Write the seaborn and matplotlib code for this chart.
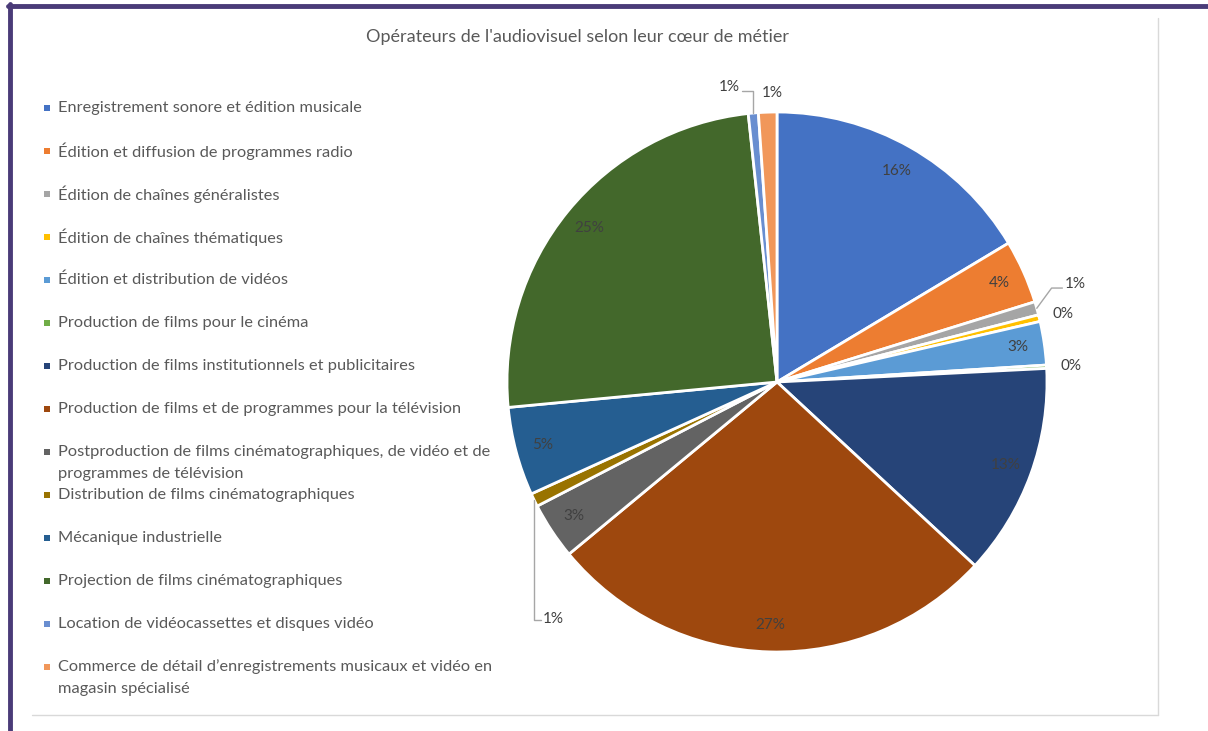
import numpy as np
import matplotlib
matplotlib.use("Agg")
import matplotlib.pyplot as plt
from matplotlib.patches import Rectangle
from matplotlib.lines import Line2D
import seaborn as sns

# data (share of operators, %)
categories = [
    "Enregistrement sonore et édition musicale",
    "Édition et diffusion de programmes radio",
    "Édition de chaînes généralistes",
    "Édition de chaînes thématiques",
    "Édition et distribution de vidéos",
    "Production de films pour le cinéma",
    "Production de films institutionnels et publicitaires",
    "Production de films et de programmes pour la télévision",
    "Postproduction de films cinématographiques, de vidéo et de\nprogrammes de télévision",
    "Distribution de films cinématographiques",
    "Mécanique industrielle",
    "Projection de films cinématographiques",
    "Location de vidéocassettes et disques vidéo",
    "Commerce de détail d’enregistrements musicaux et vidéo en\nmagasin spécialisé",
]
shares = [16.4, 3.8, 0.8, 0.4, 2.6, 0.2, 12.7, 27.1, 3.4, 0.8, 5.3, 24.8, 0.6, 1.1]
colors = [
    "#4472C4", "#ED7D31", "#A5A5A5", "#FFC000", "#5B9BD5", "#70AD47", "#264478",
    "#9E480E", "#636363", "#997300", "#255E91", "#43682B", "#698ED0", "#F1975A",
]
title = "Opérateurs de l'audiovisuel selon leur cœur de métier"

sns.set_theme(style="white")
plt.rcParams["font.family"] = ["Lato", "DejaVu Sans"]
palette = sns.color_palette(colors)

W, H = 1208, 731
fig = plt.figure(figsize=(W / 100, H / 100), dpi=100)
fig.patch.set_facecolor("white")

# outer frame (purple left/top) and light grey chart-area border
fig.add_artist(Line2D([10 / W, 10 / W], [0, 1 - 4 / H], color="#4a3b78", lw=3.5))
fig.add_artist(Line2D([8 / W, 1], [1 - 6 / H, 1 - 6 / H], color="#4a3b78", lw=3.5))
fig.add_artist(Line2D([1158 / W, 1158 / W], [1 - 18 / H, 1 - 715 / H], color="#d9d9d9", lw=1))
fig.add_artist(Line2D([32 / W, 1158 / W], [1 - 715 / H, 1 - 715 / H], color="#d9d9d9", lw=1))

fig.text(577 / W, 1 - 37 / H, title, ha="center", va="center", fontsize=13, color="#595959")

# pie
cx, cy, r = 777, 382, 270
ax = fig.add_axes([(cx - r) / W, (H - cy - r) / H, 2 * r / W, 2 * r / H])
wedges, _ = ax.pie(
    shares, colors=palette, startangle=90, counterclock=False, radius=1,
    wedgeprops=dict(edgecolor="white", linewidth=2),
)
ax.set_xlim(-1, 1)
ax.set_ylim(-1, 1)
ax.set_aspect("equal")
ax.axis("off")

lab_color = "#404040"
lead_color = "#A6A6A6"
fs = 11
for i, (w, v) in enumerate(zip(wedges, shares)):
    mid = np.deg2rad((w.theta1 + w.theta2) / 2)
    ex, ey = np.cos(mid), np.sin(mid)
    txt = f"{round(v):.0f}%"
    if v >= 2:
        ax.text(0.9 * ex, 0.9 * ey, txt, ha="center", va="center", fontsize=fs, color=lab_color)
    elif i == 2:  # leader up-right
        ax.plot([ex, ex + 0.055, ex + 0.095], [ey, ey + 0.075, ey + 0.075],
                color=lead_color, lw=1, clip_on=False)
        ax.text(ex + 0.105, ey + 0.09, txt, ha="left", va="center", fontsize=fs, color=lab_color)
    elif i == 12:  # leader up then left
        ax.plot([ex, ex, ex - 0.04], [ey, ey + 0.08, ey + 0.08],
                color=lead_color, lw=1, clip_on=False)
        ax.text(ex - 0.05, ey + 0.095, txt, ha="right", va="center", fontsize=fs, color=lab_color)
    elif i == 9:  # leader straight down then right
        y_end = ey - 0.445
        ax.plot([ex, ex, ex + 0.025], [ey, y_end, y_end], color=lead_color, lw=1, clip_on=False)
        ax.text(ex + 0.032, y_end + 0.005, txt, ha="left", va="center", fontsize=fs, color=lab_color)
    else:
        ax.text(1.07 * ex + 0.02, 1.07 * ey, txt, ha="center", va="center", fontsize=fs, color=lab_color)

# legend on the left
y0, step, line_h = 108, 43, 22
for i, (lab, col) in enumerate(zip(categories, palette)):
    y = y0 + step * i
    fig.add_artist(Rectangle(((47 - 3) / W, 1 - (y + 3) / H), 6 / W, 6 / H, color=col, lw=0))
    for k, part in enumerate(lab.split("\n")):
        fig.text(58 / W, 1 - (y + k * line_h) / H, part, ha="left", va="center",
                 fontsize=11.8, color="#595959")

fig.savefig("out.png", dpi=100, facecolor="white")
